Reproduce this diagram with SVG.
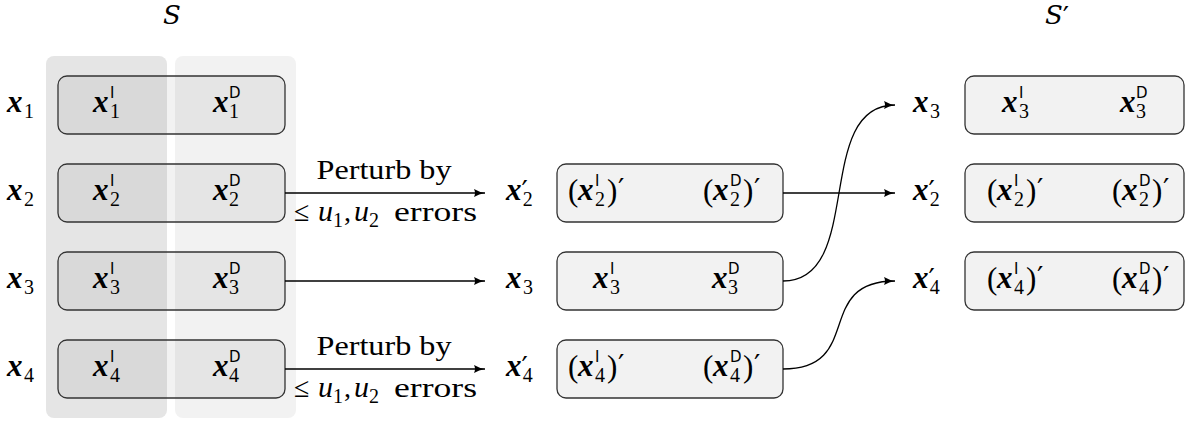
<svg xmlns="http://www.w3.org/2000/svg" width="1187" height="421" viewBox="0 0 1187 421">
<style>
.bx{font-family:"Liberation Serif",serif;font-weight:bold;font-style:italic;font-size:31px;fill:#000}
.sf{font-family:"DejaVu Sans","Liberation Sans",sans-serif;font-size:15px;fill:#000}
.sb{font-family:"Liberation Serif",serif;font-size:20px;fill:#000}
.rm{font-family:"Liberation Serif",serif;font-size:28px;fill:#000}
.it{font-family:"Liberation Serif",serif;font-style:italic;font-size:30px;fill:#000}
.par{font-family:"Liberation Serif",serif;font-size:31px;fill:#000}
.pr{font-family:"DejaVu Sans",sans-serif;font-size:28px;fill:#000}
.cal{font-family:"DejaVu Serif",serif;font-style:italic;font-size:26px;fill:#000}
.box{fill:#000;fill-opacity:0.05;stroke:#333;stroke-width:1.3}
.boxw{fill:#f2f2f2;stroke:#333;stroke-width:1.3}
.ln{fill:none;stroke:#000;stroke-width:1.3}
</style>
<defs>
<marker id="ah" markerUnits="userSpaceOnUse" markerWidth="12" markerHeight="10" refX="11" refY="5" orient="auto">
<path d="M0,1 Q5,4 11,5 Q5,6 0,9 Q2,5 0,1 z" fill="#000"/>
</marker>
</defs>
<rect x="0" y="0" width="1187" height="421" fill="#fff"/>
<g id="col-I"><rect x="46" y="56" width="121" height="362" rx="8" fill="#e5e5e5"/></g>
<g id="col-D"><rect x="175" y="56" width="121" height="362" rx="8" fill="#f2f2f2"/></g>

<g id="title-S"><text class="cal" x="163" y="24">S</text></g>
<g id="title-S2"><text x="1045" y="24"><tspan class="cal">S</tspan><tspan class="pr" font-size="20px" dy="3">′</tspan></text></g>

<!-- left rows -->
<g id="s1">
<text class="bx" x="7" y="112">x</text><text class="sb" x="24" y="118">1</text>
<rect class="box" x="58" y="76" width="227" height="58" rx="9"/>
<text class="bx" x="93" y="112">x</text><text class="sf" x="110" y="98">I</text><text class="sb" x="110" y="118">1</text>
<text class="bx" x="213" y="112">x</text><text class="sf" x="229" y="98">D</text><text class="sb" x="229" y="118">1</text>
</g>
<g id="s2">
<text class="bx" x="7" y="200">x</text><text class="sb" x="24" y="206">2</text>
<rect class="box" x="58" y="164" width="227" height="58" rx="9"/>
<text class="bx" x="93" y="200">x</text><text class="sf" x="110" y="186">I</text><text class="sb" x="110" y="206">2</text>
<text class="bx" x="213" y="200">x</text><text class="sf" x="229" y="186">D</text><text class="sb" x="229" y="206">2</text>
</g>
<g id="s3">
<text class="bx" x="7" y="288">x</text><text class="sb" x="24" y="294">3</text>
<rect class="box" x="58" y="252" width="227" height="58" rx="9"/>
<text class="bx" x="93" y="288">x</text><text class="sf" x="110" y="274">I</text><text class="sb" x="110" y="294">3</text>
<text class="bx" x="213" y="288">x</text><text class="sf" x="229" y="274">D</text><text class="sb" x="229" y="294">3</text>
</g>
<g id="s4">
<text class="bx" x="7" y="376">x</text><text class="sb" x="24" y="382">4</text>
<rect class="box" x="58" y="340" width="227" height="58" rx="9"/>
<text class="bx" x="93" y="376">x</text><text class="sf" x="110" y="362">I</text><text class="sb" x="110" y="382">4</text>
<text class="bx" x="213" y="376">x</text><text class="sf" x="229" y="362">D</text><text class="sb" x="229" y="382">4</text>
</g>

<!-- middle rows -->
<g id="m2">
<text x="506" y="200"><tspan class="bx">x</tspan><tspan class="pr" dy="1">′</tspan><tspan class="sb" dx="-5" dy="5">2</tspan></text>
<rect class="boxw" x="557" y="164" width="226" height="58" rx="9"/>
<text class="par" x="568" y="201">(</text><text class="bx" x="578" y="200">x</text><text class="sf" x="595" y="186">I</text><text class="sb" x="595" y="206">2</text><text class="par" x="607" y="201">)</text><text class="pr" x="618" y="199">′</text>
<text class="par" x="703" y="201">(</text><text class="bx" x="713" y="200">x</text><text class="sf" x="730" y="186">D</text><text class="sb" x="730" y="206">2</text><text class="par" x="743" y="201">)</text><text class="pr" x="754" y="199">′</text>
</g>
<g id="m3">
<text class="bx" x="506" y="288">x</text><text class="sb" x="523" y="294">3</text>
<rect class="boxw" x="557" y="252" width="226" height="58" rx="9"/>
<text class="bx" x="593" y="288">x</text><text class="sf" x="610" y="274">I</text><text class="sb" x="610" y="294">3</text>
<text class="bx" x="712" y="288">x</text><text class="sf" x="728" y="274">D</text><text class="sb" x="728" y="294">3</text>
</g>
<g id="m4">
<text x="506" y="376"><tspan class="bx">x</tspan><tspan class="pr" dy="1">′</tspan><tspan class="sb" dx="-5" dy="5">4</tspan></text>
<rect class="boxw" x="557" y="340" width="226" height="58" rx="9"/>
<text class="par" x="568" y="377">(</text><text class="bx" x="578" y="376">x</text><text class="sf" x="595" y="362">I</text><text class="sb" x="595" y="382">4</text><text class="par" x="607" y="377">)</text><text class="pr" x="618" y="375">′</text>
<text class="par" x="703" y="377">(</text><text class="bx" x="713" y="376">x</text><text class="sf" x="730" y="362">D</text><text class="sb" x="730" y="382">4</text><text class="par" x="743" y="377">)</text><text class="pr" x="754" y="375">′</text>
</g>

<!-- right rows -->
<g id="r1">
<text class="bx" x="913" y="112">x</text><text class="sb" x="930" y="118">3</text>
<rect class="boxw" x="965" y="76" width="219" height="58" rx="9"/>
<text class="bx" x="1002" y="112">x</text><text class="sf" x="1019" y="98">I</text><text class="sb" x="1019" y="118">3</text>
<text class="bx" x="1120" y="112">x</text><text class="sf" x="1136" y="98">D</text><text class="sb" x="1136" y="118">3</text>
</g>
<g id="r2">
<text x="913" y="200"><tspan class="bx">x</tspan><tspan class="pr" dy="1">′</tspan><tspan class="sb" dx="-5" dy="5">2</tspan></text>
<rect class="boxw" x="965" y="164" width="219" height="58" rx="9"/>
<text class="par" x="987" y="201">(</text><text class="bx" x="997" y="200">x</text><text class="sf" x="1014" y="186">I</text><text class="sb" x="1014" y="206">2</text><text class="par" x="1026" y="201">)</text><text class="pr" x="1037" y="199">′</text>
<text class="par" x="1112" y="201">(</text><text class="bx" x="1122" y="200">x</text><text class="sf" x="1139" y="186">D</text><text class="sb" x="1139" y="206">2</text><text class="par" x="1152" y="201">)</text><text class="pr" x="1163" y="199">′</text>
</g>
<g id="r3">
<text x="913" y="288"><tspan class="bx">x</tspan><tspan class="pr" dy="1">′</tspan><tspan class="sb" dx="-5" dy="5">4</tspan></text>
<rect class="boxw" x="965" y="252" width="219" height="58" rx="9"/>
<text class="par" x="987" y="289">(</text><text class="bx" x="997" y="288">x</text><text class="sf" x="1014" y="274">I</text><text class="sb" x="1014" y="294">4</text><text class="par" x="1026" y="289">)</text><text class="pr" x="1037" y="287">′</text>
<text class="par" x="1112" y="289">(</text><text class="bx" x="1122" y="288">x</text><text class="sf" x="1139" y="274">D</text><text class="sb" x="1139" y="294">4</text><text class="par" x="1152" y="289">)</text><text class="pr" x="1163" y="287">′</text>
</g>

<g id="connectors">
<line class="ln" x1="285" y1="193" x2="485" y2="193" marker-end="url(#ah)"/>
<line class="ln" x1="285" y1="281" x2="485" y2="281" marker-end="url(#ah)"/>
<line class="ln" x1="285" y1="369" x2="485" y2="369" marker-end="url(#ah)"/>
<line class="ln" x1="783" y1="193" x2="895" y2="193" marker-end="url(#ah)"/>
<path class="ln" d="M783,281 C865,281 813,105 895,105" marker-end="url(#ah)"/>
<path class="ln" d="M783,369 C865,369 813,281 895,281" marker-end="url(#ah)"/>
<g id="lbl2">
<text class="rm" x="384" y="179" text-anchor="middle" textLength="135" lengthAdjust="spacingAndGlyphs">Perturb by</text>
<text class="rm" x="294" y="221" font-size="31px">≤</text><text class="it" x="318" y="221">u</text><text class="sb" x="333" y="227">1</text><text class="rm" x="344" y="221">,</text><text class="it" x="354" y="221">u</text><text class="sb" x="369" y="227">2</text>
<text class="rm" x="394" y="221" textLength="83" lengthAdjust="spacingAndGlyphs">errors</text>
</g>
<g id="lbl4">
<text class="rm" x="384" y="355" text-anchor="middle" textLength="135" lengthAdjust="spacingAndGlyphs">Perturb by</text>
<text class="rm" x="294" y="397" font-size="31px">≤</text><text class="it" x="318" y="397">u</text><text class="sb" x="333" y="403">1</text><text class="rm" x="344" y="397">,</text><text class="it" x="354" y="397">u</text><text class="sb" x="369" y="403">2</text>
<text class="rm" x="394" y="397" textLength="83" lengthAdjust="spacingAndGlyphs">errors</text>
</g>
</g>
</svg>
